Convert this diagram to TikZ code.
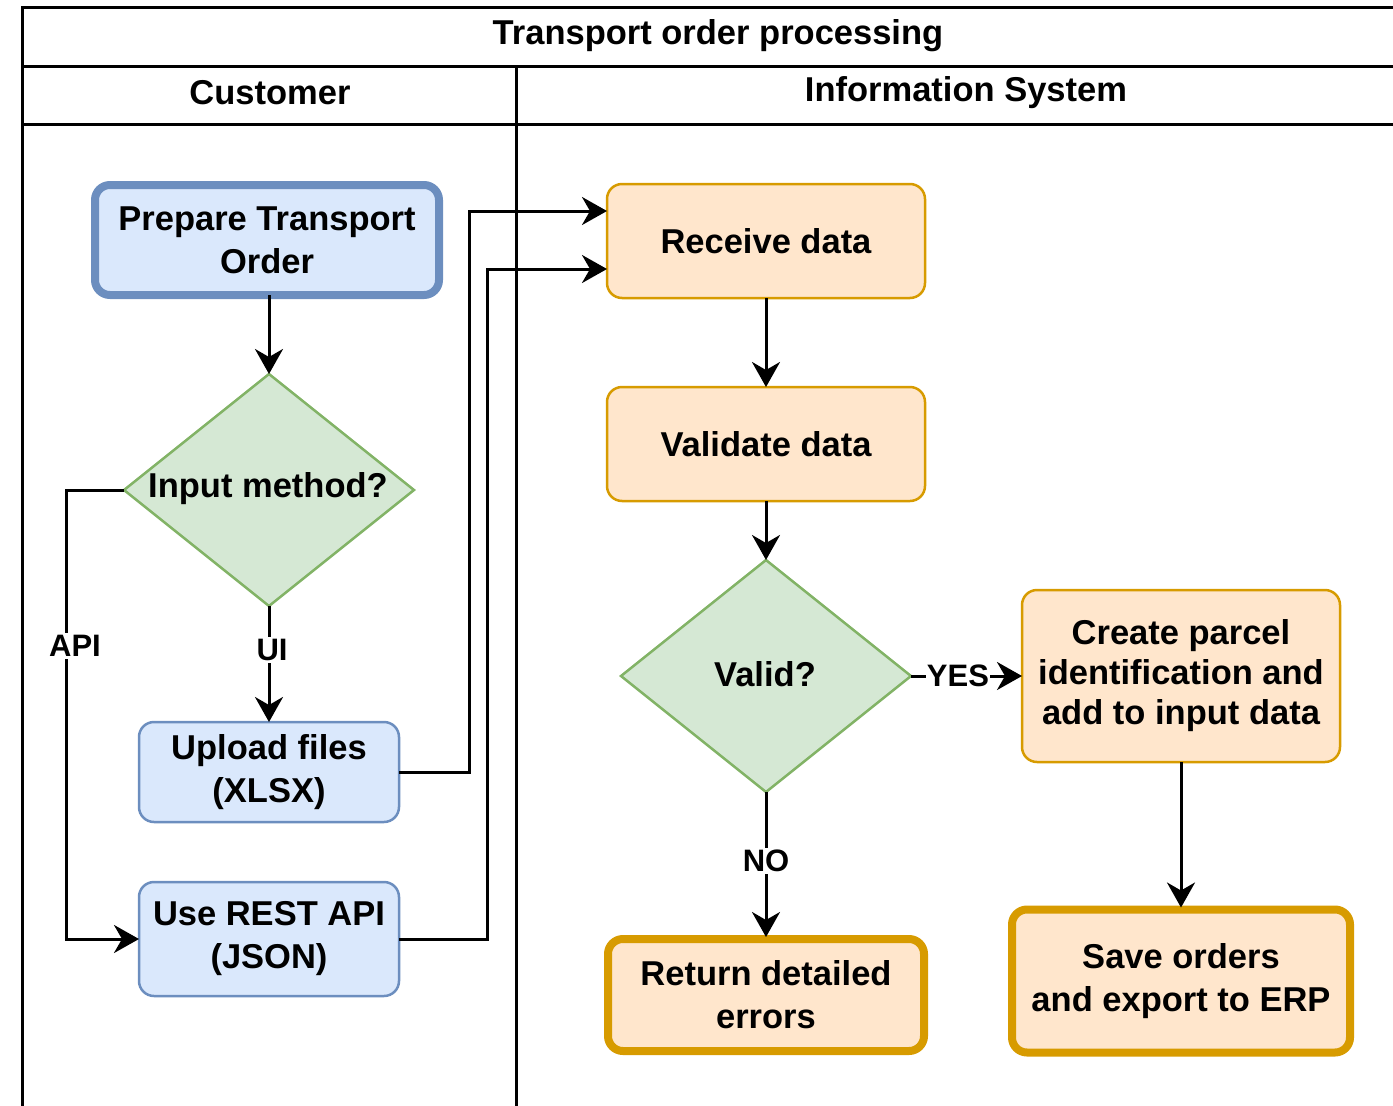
\documentclass[tikz,border=0pt]{standalone}
\usepackage{fontspec}
\setmainfont{Liberation Sans}
\usetikzlibrary{shapes.geometric,arrows.meta}
\definecolor{bfill}{HTML}{DAE8FC}
\definecolor{bstroke}{HTML}{6C8EBF}
\definecolor{gfill}{HTML}{D5E8D4}
\definecolor{gstroke}{HTML}{82B366}
\definecolor{ofill}{HTML}{FFE6CC}
\definecolor{ostroke}{HTML}{D79B00}
\newcommand\boxfont{\fontsize{34.5}{43}\selectfont\bfseries}
\newcommand\tightfont{\fontsize{34.5}{40}\selectfont\bfseries}
\newcommand\lblfont{\fontsize{31}{36}\selectfont\bfseries}
\begin{document}
\begin{tikzpicture}[x=1pt,y=-1pt,
  box/.style={rectangle, rounded corners=15pt, align=center, inner sep=0pt, outer sep=0pt, font=\boxfont},
  bluebox/.style={box, draw=bstroke, fill=bfill, line width=2.5pt},
  orbox/.style={box, draw=ostroke, fill=ofill, line width=2.5pt},
  dia/.style={diamond, draw=gstroke, fill=gfill, line width=2.5pt, minimum width=290pt, minimum height=232pt, inner sep=0pt, outer sep=0pt},
  txt/.style={inner sep=0pt, align=center, font=\boxfont},
  lbl/.style={fill=white, inner sep=2pt, font=\lblfont},
  lane/.style={line width=3pt, draw=black},
  arr/.style={line width=3pt, -{Stealth[length=25pt,width=28pt,inset=8pt]}},
]
\useasboundingbox (0,0) rectangle (1393,1106);
% pool and lanes
\draw[lane] (22,1106) -- (22,7) -- (1393,7);
\draw[lane] (22,66) -- (1393,66);
\draw[lane] (22,124) -- (1393,124);
\draw[lane] (516,66) -- (516,1106);
\node[txt] (title) at (718,36) {Transport order processing};
\node[txt] (cust) at (270,93) {Customer};
\node[txt] (infos) at (966,93) {Information System};

% nodes
\node[bluebox, line width=8pt, minimum width=344pt, minimum height=110pt] (prep) at (267,240) {Prepare Transport\\Order};
\node[dia] (dec1) at (269,490) {};
\node[txt] (dec1t) at (268,489) {Input method?};
\node[bluebox, minimum width=260pt, minimum height=100pt] (up) at (269,772) {Upload files\\(XLSX)};
\node[bluebox, minimum width=260pt, minimum height=114pt] (rest) at (269,939) {Use REST API\\(JSON)};
\node[orbox, minimum width=318pt, minimum height=114pt] (rec) at (766,241) {Receive data};
\node[orbox, minimum width=318pt, minimum height=114pt] (val) at (766,444) {Validate data};
\node[dia] (dec2) at (766,676) {};
\node[txt] (dec2t) at (765,674) {Valid?};
\node[orbox, font=\tightfont, minimum width=318pt, minimum height=172pt] (cre) at (1181,676) {Create parcel\\identification and\\add to input data};
\node[orbox, line width=8pt, minimum width=316pt, minimum height=112pt] (ret) at (766,995) {Return detailed\\errors};
\node[orbox, line width=8pt, minimum width=338pt, minimum height=143pt] (save) at (1181,981) {Save orders\\and export to ERP};

% connectors
\draw[arr] (prep.south -| dec1.north) -- (dec1.north);
\draw[arr] (dec1.south) -- (up.north);
\draw[arr] (dec1.west) -- ++(-58,0) |- (rest.west);
\draw[arr] (up.east) -- ++(70,0) |- ([yshift=30pt]rec.west);
\draw[arr] (rest.east) -- ++(88,0) |- ([yshift=-28pt]rec.west);
\draw[arr] (rec.south) -- (val.north);
\draw[arr] (val.south) -- (dec2.north);
\draw[arr] (dec2.east) -- (cre.west);
\draw[arr] (dec2.south) -- ([yshift=2pt]ret.north);
\draw[arr] (cre.south) -- ([yshift=2pt]save.north);

% labels
\node[lbl] (lui) at (272,650) {UI};
\node[lbl] (lapi) at (75,646) {API};
\node[lbl, inner sep=1pt] (lyes) at (958,676) {YES};
\node[lbl] (lno) at (766,861) {NO};
\end{tikzpicture}
\end{document}
